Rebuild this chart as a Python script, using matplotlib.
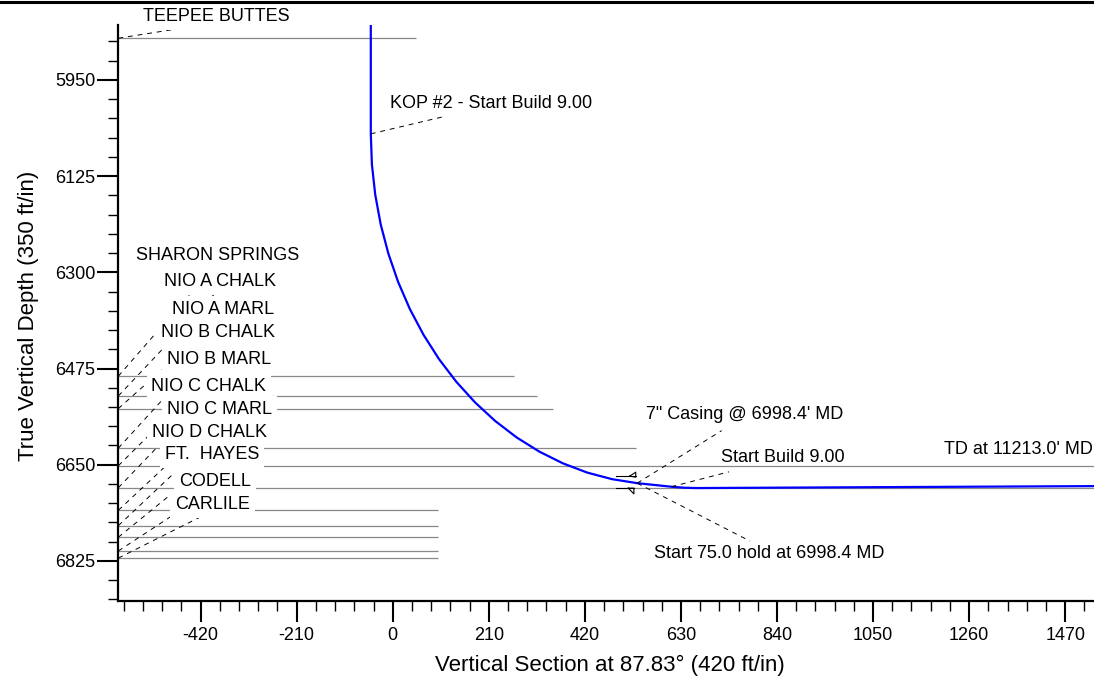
import matplotlib
matplotlib.use("Agg")
import matplotlib.pyplot as plt
from matplotlib.ticker import MultipleLocator
from matplotlib.transforms import Affine2D, ScaledTranslation
from matplotlib.lines import Line2D

plt.rcParams['font.family'] = ['Liberation Sans', 'DejaVu Sans']
plt.rcParams['axes.unicode_minus'] = False

# ---- data ----
well_vs = [-48, -48, -45.6, -38.3, -26.3, -9.5, 11.8, 37.5, 67.4, 101.3, 138.9, 179.9,
           224.1, 271.0, 320.4, 371.8, 424.9, 479.2, 534.4, 609.1, 636.9, 664.7, 1600]
well_tvd = [5850, 6048, 6103.6, 6158.8, 6213.1, 6266.2, 6317.6, 6367.0, 6413.9, 6458.1,
            6499.1, 6536.7, 6570.6, 6600.5, 6626.2, 6647.5, 6664.3, 6676.3, 6683.6,
            6690.1, 6691.9, 6692.5, 6688.7]

form_names = ["TEEPEE BUTTES", "SHARON SPRINGS", "NIO A CHALK", "NIO A MARL", "NIO B CHALK",
              "NIO B MARL", "NIO C CHALK", "NIO C MARL", "NIO D CHALK", "FT.  HAYES",
              "CODELL", "CARLILE"]
form_tvd = [5874, 6489, 6525, 6548, 6620, 6652, 6692, 6733, 6761, 6782, 6807, 6820]
form_end_vs = [51, 265, 315, 350, 532, 1600, 1600, 99, 99, 99, 99, 99]
label_vs = [-386, -383, -378, -372, -382, -380, -402, -379, -400, -395, -389, -394]
label_tvd = [5834, 6270, 6317, 6367, 6409, 6458, 6508, 6549, 6592, 6631, 6680, 6722]

# annotations: text, well point index, text position, leader end
ann_text = ["KOP #2 - Start Build 9.00", "7\" Casing @ 6998.4' MD", "Start Build 9.00",
            "Start 75.0 hold at 6998.4 MD", "TD at 11213.0' MD"]
ann_point = [1, 18, 19, 18, None]
ann_text_vs = [-6, 553, 717, 572, 1204]
ann_text_tvd = [5992, 6558, 6636, 6811, 6622]
ann_lead_vs = [110, 719, 735, 781, None]
ann_lead_tvd = [6017, 6588, 6663, 6789, None]

xlim = (-600, 1533)
ylim = (6898, 5850)
x_major, x_minor = 210, 42
y_major, y_minor = 175, 35

FS = 13

fig = plt.figure(figsize=(10.94, 6.76), dpi=100)
ax = fig.add_axes([118.3 / 1094, 75 / 676, (1094 - 118.3) / 1094, 576 / 676])
ax.set_xlim(*xlim)
ax.set_ylim(*ylim)

for s in ['top', 'right']:
    ax.spines[s].set_visible(False)
for s in ['left', 'bottom']:
    ax.spines[s].set_linewidth(1.6)

ax.xaxis.set_major_locator(MultipleLocator(x_major))
ax.xaxis.set_minor_locator(MultipleLocator(x_minor))
ax.yaxis.set_major_locator(MultipleLocator(y_major))
ax.yaxis.set_minor_locator(MultipleLocator(y_minor))
ax.tick_params(axis='both', which='major', direction='out', length=15, width=1.5,
               labelsize=FS, color='black')
ax.tick_params(axis='both', which='minor', direction='out', length=7, width=1.0)
ax.tick_params(axis='x', which='major', pad=4)
ax.tick_params(axis='y', which='major', pad=1.5)

# formation lines, leaders, labels
for i, name in enumerate(form_names):
    ax.plot([xlim[0], form_end_vs[i]], [form_tvd[i], form_tvd[i]], color='#888888',
            lw=0.9, zorder=1, solid_capstyle='butt')
    ax.plot([xlim[0], label_vs[i]], [form_tvd[i], label_tvd[i] + 12], color='black', lw=0.7,
            linestyle=(0, (5, 5)), zorder=2, clip_on=False)
    ax.text(label_vs[i], label_tvd[i], name, fontsize=FS, ha='center', va='center',
            zorder=3, clip_on=False,
            bbox=dict(facecolor='white', edgecolor='none', pad=3.5))

# well path
ax.plot(well_vs, well_tvd, color='#0000ff', lw=1.6, zorder=5)

# annotations
for i, t in enumerate(ann_text):
    ax.text(ann_text_vs[i], ann_text_tvd[i], t, fontsize=FS, ha='left', va='center',
            zorder=6, clip_on=False)
    if ann_point[i] is not None:
        p = ann_point[i]
        ax.plot([well_vs[p], ann_lead_vs[i]], [well_tvd[p], ann_lead_tvd[i]], color='black',
                lw=0.7, linestyle=(0, (5, 5)), zorder=6)

# casing shoe symbol at the casing point (pixel offsets around the point)
cp = ann_point[1]
tr = Affine2D() + ScaledTranslation(well_vs[cp], well_tvd[cp], ax.transData)
sym = [([-21.5, -1], [7, 7]),
       ([-7.5, -1.5, -1.5, -7.5], [7, 11, 6, 7]),
       ([-21.5, -3.3], [-5, -5]),
       ([-9, -3.3, -3.3, -9], [-5, -5, -10.7, -5])]
for xs, ys in sym:
    ax.add_line(Line2D(xs, ys, transform=tr, color='black', lw=0.8, clip_on=False, zorder=6))

# axis labels
fig.text(610 / 1094, 1 - 665 / 676, "Vertical Section at 87.83\u00b0 (420 ft/in)",
         fontsize=16, ha='center', va='center')
fig.text(28.7 / 1094, 1 - 316 / 676, "True Vertical Depth (350 ft/in)", fontsize=16,
         ha='center', va='center', rotation=90)

# top border line
fig.add_artist(Line2D([0, 1], [1 - 1.5 / 676, 1 - 1.5 / 676], transform=fig.transFigure,
                      color='black', lw=2.2))

fig.savefig("out.png", dpi=100)
